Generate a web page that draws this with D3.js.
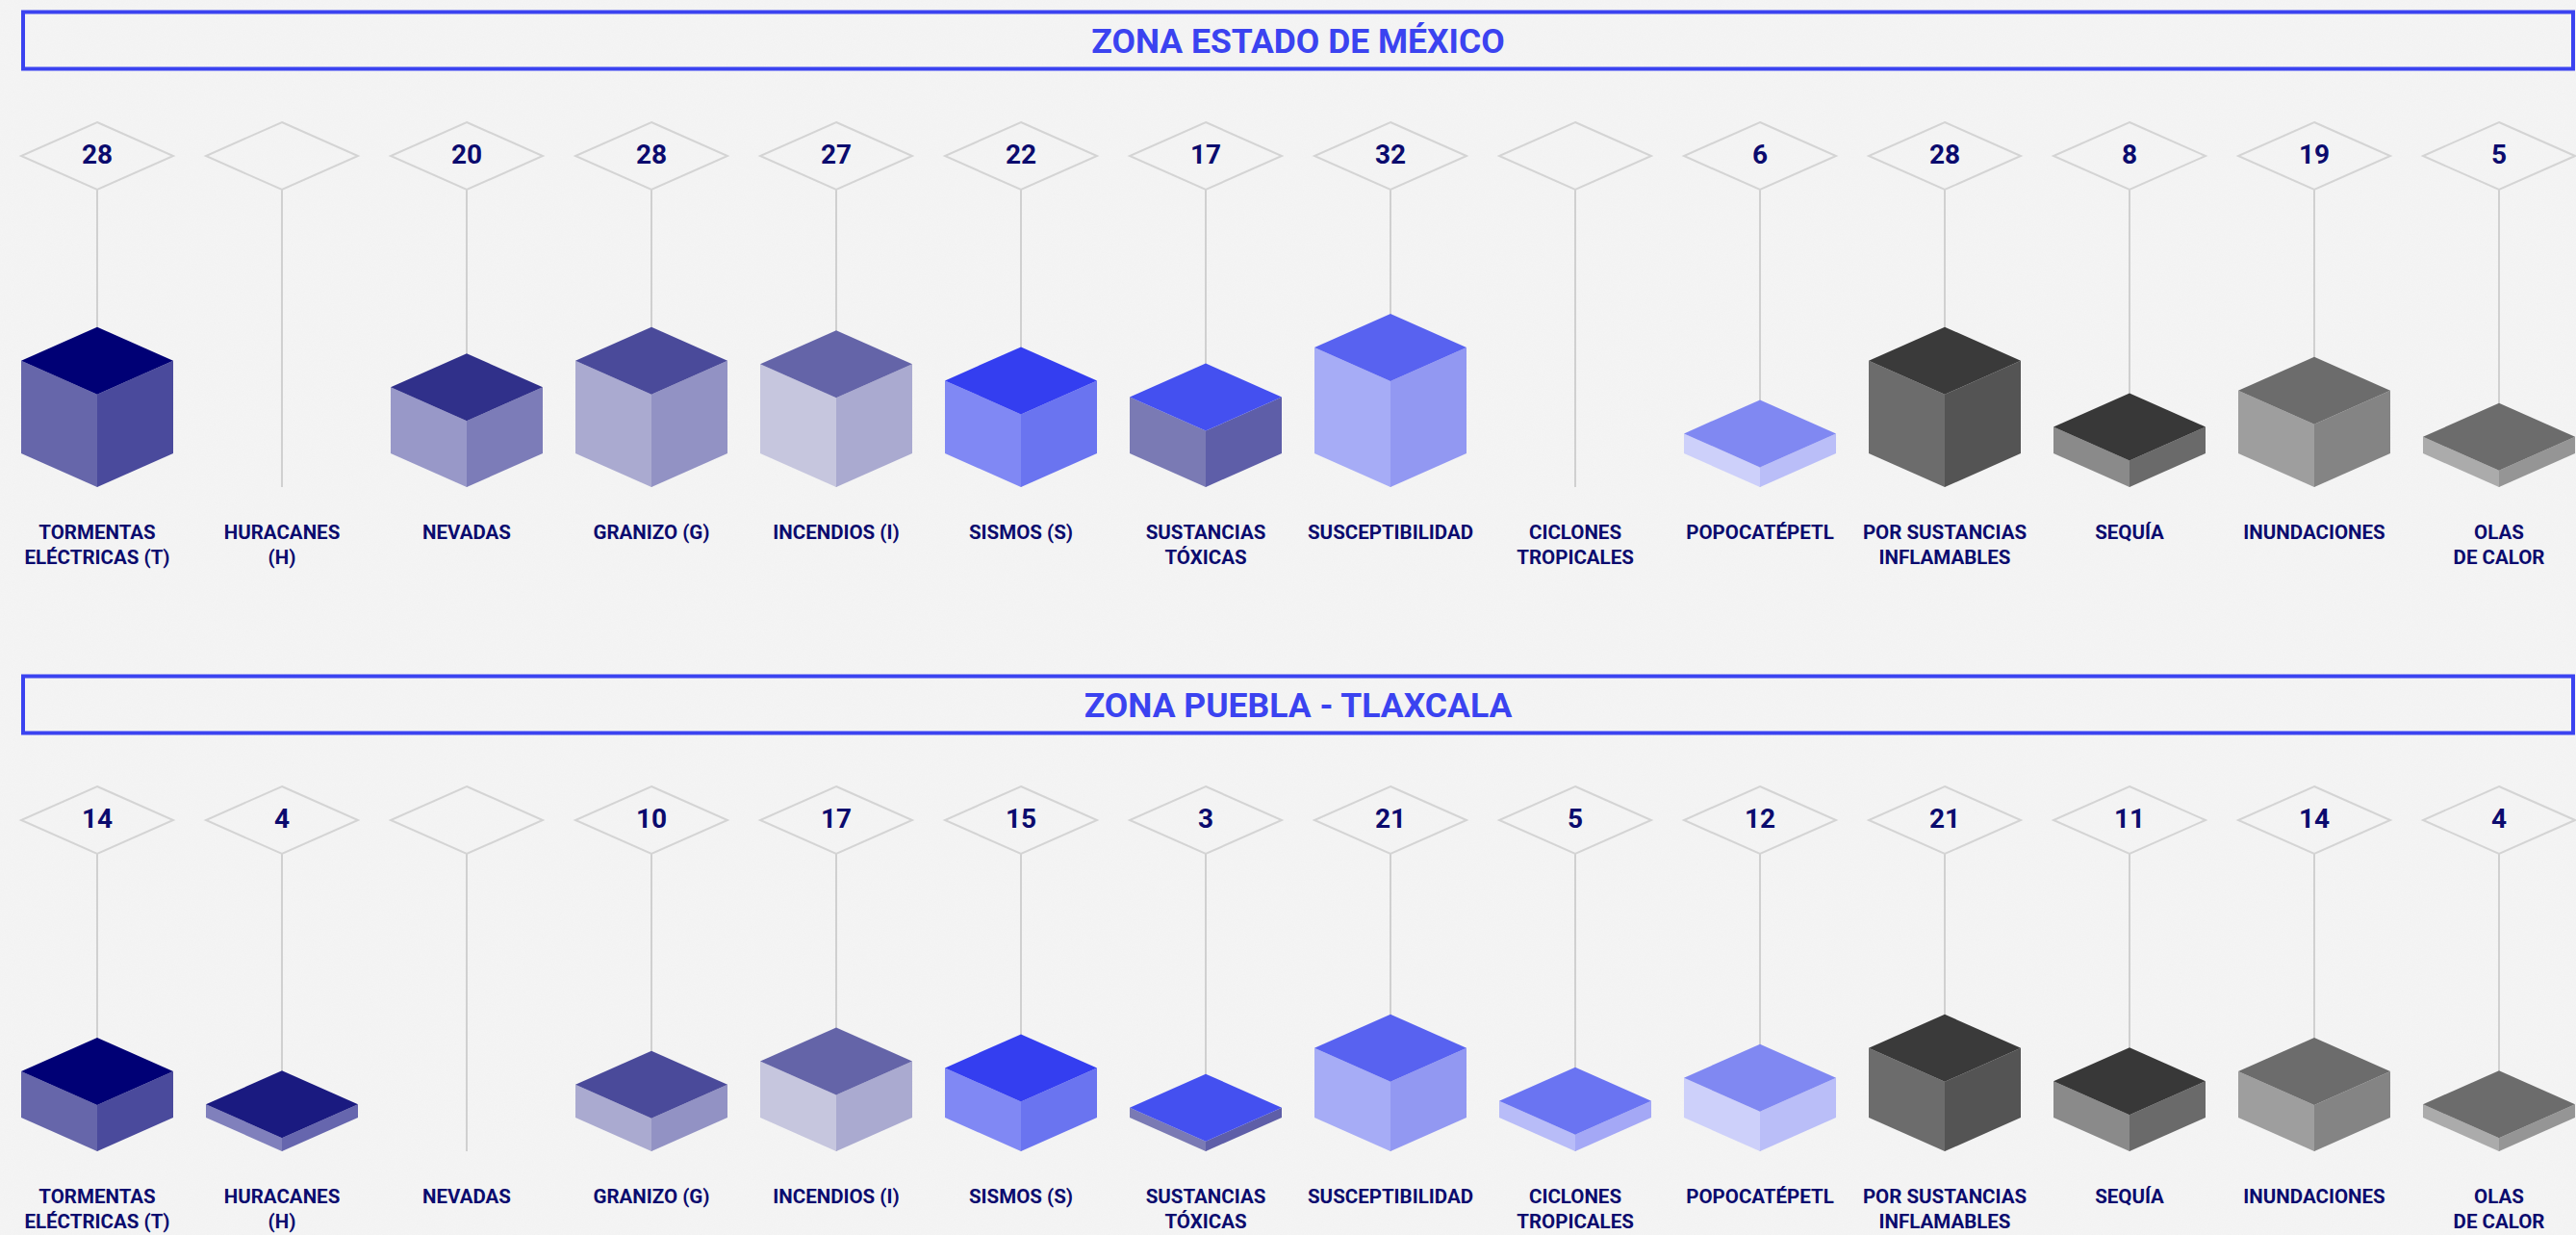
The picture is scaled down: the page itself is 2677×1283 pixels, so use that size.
<!DOCTYPE html>
<html>
<head>
<meta charset="utf-8">
<script src="https://cdn.jsdelivr.net/npm/d3@7"></script>
<style>
  html, body { margin: 0; padding: 0; background: #f4f4f4; }
  svg { display: block; }
  text { font-family: Roboto, "Noto Sans", sans-serif; font-weight: 700; }
</style>
</head>
<body>
<div id="chart"></div>
<script>
// categorias (una columna por riesgo)
var categories = ["TORMENTAS ELÉCTRICAS (T)", "HURACANES (H)", "NEVADAS", "GRANIZO (G)", "INCENDIOS (I)",
    "SISMOS (S)", "SUSTANCIAS TÓXICAS", "SUSCEPTIBILIDAD", "CICLONES TROPICALES", "POPOCATÉPETL",
    "POR SUSTANCIAS INFLAMABLES", "SEQUÍA", "INUNDACIONES", "OLAS DE CALOR"];
var labelLines = [["TORMENTAS", "ELÉCTRICAS (T)"], ["HURACANES", "(H)"], ["NEVADAS"], ["GRANIZO (G)"],
    ["INCENDIOS (I)"], ["SISMOS (S)"], ["SUSTANCIAS", "TÓXICAS"], ["SUSCEPTIBILIDAD"],
    ["CICLONES", "TROPICALES"], ["POPOCATÉPETL"], ["POR SUSTANCIAS", "INFLAMABLES"], ["SEQUÍA"],
    ["INUNDACIONES"], ["OLAS", "DE CALOR"]];
var zones = ["ZONA ESTADO DE MÉXICO", "ZONA PUEBLA - TLAXCALA"];
var valuesEdomex = [28, null, 20, 28, 27, 22, 17, 32, null, 6, 28, 8, 19, 5];
var valuesPueblaTlax = [14, 4, null, 10, 17, 15, 3, 21, 5, 12, 21, 11, 14, 4];

// paleta de caras (superior, izquierda, derecha)
var topColors = ["#000075", "#1a1a80", "#30308a", "#4a4a9a", "#6464a8", "#343ef0", "#4450f0",
    "#5862f0", "#6a74f2", "#8088f2", "#3a3a3a", "#383838", "#6c6c6c", "#6c6c6c"];
var leftColors = ["#6666aa", "#8080bc", "#9898c8", "#aaaad0", "#c6c6de", "#8088f4", "#7a7ab4",
    "#a6acf6", "#b8bcf8", "#cdd0fa", "#6c6c6c", "#8a8a8a", "#9e9e9e", "#ababab"];
var rightColors = ["#4a4a9c", "#6666ae", "#7c7cb8", "#9292c4", "#aaaad0", "#6a74f0", "#5e5ea8",
    "#9298f2", "#a4a8f6", "#babef8", "#545454", "#6a6a6a", "#848484", "#959595"];

var width = 2677;
var height = 1283;
var panelHeight = 690;
var halfW = 79;      // medio ancho del rombo
var halfH = 35;      // medio alto del rombo
var diamondY = 162;  // centro del rombo superior
var groundY = 506;   // vertice inferior de los cubos
var navy = "#0b0b6e";
var blue = "#3b43f0";

var x = d3.scalePoint().domain(categories).range([101, 2597]);
var h = d3.scaleLinear().domain([0, 32]).range([0, 110]);
var topColor = d3.scaleOrdinal(categories, topColors);
var leftColor = d3.scaleOrdinal(categories, leftColors);
var rightColor = d3.scaleOrdinal(categories, rightColors);

var svg = d3.select("#chart").append("svg")
    .attr("width", width)
    .attr("height", height);

// textura de papel
var defs = svg.append("defs");
var noise = defs.append("filter").attr("id", "noise")
    .attr("x", 0).attr("y", 0).attr("width", "100%").attr("height", "100%");
noise.append("feTurbulence").attr("type", "fractalNoise")
    .attr("baseFrequency", 0.9).attr("numOctaves", 2).attr("seed", 3);
noise.append("feColorMatrix").attr("type", "matrix")
    .attr("values", "0 0 0 0 0.5  0 0 0 0 0.5  0 0 0 0 0.5  0 0 0 0.06 0");
svg.append("rect").attr("width", width).attr("height", height).attr("fill", "#f5f5f5");
svg.append("rect").attr("width", width).attr("height", height).attr("filter", "url(#noise)");

var panels = [valuesEdomex, valuesPueblaTlax];

panels.forEach(function (values, p) {
    var g = svg.append("g").attr("transform", "translate(0," + (p * panelHeight) + ")");
    var rows = categories.map(function (c, i) {
        return { name: c, value: values[i], lines: labelLines[i] };
    });

    g.append("rect")
        .attr("x", 24).attr("y", 12.5)
        .attr("width", 2650).attr("height", 59)
        .attr("fill", "none")
        .attr("stroke", blue)
        .attr("stroke-width", 4);

    g.append("text")
        .attr("x", 1349).attr("y", 55)
        .attr("text-anchor", "middle")
        .attr("fill", blue)
        .style("font-size", "35.5px")
        .text(zones[p]);

    var col = g.selectAll(".col")
        .data(rows)
        .enter().append("g")
        .attr("class", "col")
        .attr("transform", function (d) { return "translate(" + x(d.name) + ",0)"; });

    // tallo
    col.append("line")
        .attr("x1", 0).attr("x2", 0)
        .attr("y1", diamondY + halfH).attr("y2", groundY)
        .attr("stroke", "#d0d0d0")
        .attr("stroke-width", 2);

    // rombo
    col.append("path")
        .attr("d", "M0," + (diamondY - halfH) + "L" + halfW + "," + diamondY +
            "L0," + (diamondY + halfH) + "L" + (-halfW) + "," + diamondY + "Z")
        .attr("fill", "none")
        .attr("stroke", "#d4d4d4")
        .attr("stroke-width", 2);

    col.filter(function (d) { return d.value != null; })
        .append("text")
        .attr("x", 0).attr("y", diamondY + 8)
        .attr("text-anchor", "middle")
        .attr("fill", navy)
        .style("font-size", "28px")
        .text(function (d) { return d.value; });

    // cubos
    var cube = col.filter(function (d) { return d.value != null; });
    var pt = function (a, b) { return a + "," + b; };

    cube.append("path")
        .attr("fill", function (d) { return leftColor(d.name); })
        .attr("d", function (d) {
            var t = h(d.value);
            return "M" + pt(-halfW, groundY - halfH) + "L" + pt(0, groundY) + "L" + pt(0, groundY - t) +
                "L" + pt(-halfW, groundY - halfH - t) + "Z";
        });
    cube.append("path")
        .attr("fill", function (d) { return rightColor(d.name); })
        .attr("d", function (d) {
            var t = h(d.value);
            return "M" + pt(halfW, groundY - halfH) + "L" + pt(0, groundY) + "L" + pt(0, groundY - t) +
                "L" + pt(halfW, groundY - halfH - t) + "Z";
        });
    cube.append("path")
        .attr("fill", function (d) { return topColor(d.name); })
        .attr("d", function (d) {
            var t = h(d.value);
            return "M" + pt(0, groundY - t) + "L" + pt(-halfW, groundY - halfH - t) +
                "L" + pt(0, groundY - 2 * halfH - t) + "L" + pt(halfW, groundY - halfH - t) + "Z";
        });

    // etiquetas
    col.append("text")
        .attr("text-anchor", "middle")
        .attr("fill", navy)
        .style("font-size", "20.5px")
        .selectAll("tspan")
        .data(function (d) { return d.lines; })
        .enter().append("tspan")
        .attr("x", 0)
        .attr("y", function (d, i) { return 560 + i * 26; })
        .text(function (d) { return d; });
});
</script>
</body>
</html>
